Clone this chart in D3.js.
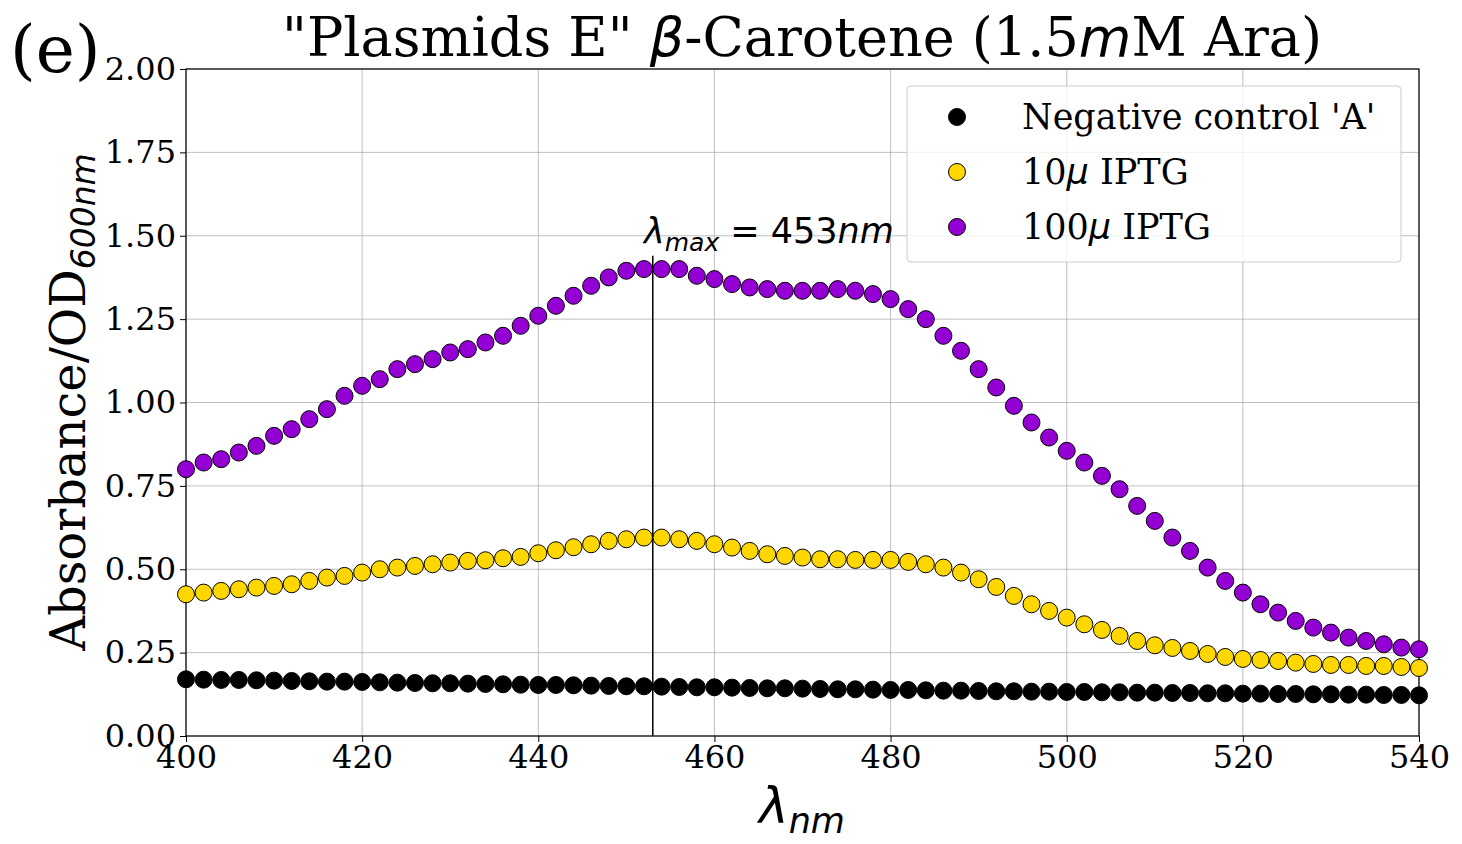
<!DOCTYPE html>
<html><head><meta charset="utf-8">
<script src="https://cdn.jsdelivr.net/npm/d3@7"></script>
<style>body{margin:0;background:#fff}</style></head>
<body><svg id="c" width="1462" height="844"></svg>
<script>
const wavelengths = d3.range(400, 541, 2);
const negControl = [0.170,0.169,0.168,0.168,0.167,0.166,0.165,0.164,0.163,0.163,0.162,0.161,0.160,0.159,0.158,0.158,0.157,0.156,0.155,0.154,0.153,0.153,0.152,0.151,0.150,0.149,0.149,0.148,0.147,0.146,0.146,0.145,0.144,0.143,0.143,0.142,0.141,0.140,0.140,0.139,0.138,0.138,0.137,0.136,0.136,0.135,0.134,0.134,0.133,0.133,0.132,0.132,0.131,0.131,0.130,0.130,0.129,0.129,0.128,0.128,0.127,0.127,0.126,0.126,0.125,0.125,0.124,0.124,0.123,0.123,0.122];
const iptg10 = [0.425,0.43,0.435,0.44,0.445,0.45,0.455,0.465,0.475,0.48,0.49,0.50,0.505,0.51,0.515,0.52,0.525,0.527,0.533,0.537,0.548,0.557,0.566,0.575,0.585,0.59,0.595,0.595,0.59,0.585,0.575,0.565,0.555,0.545,0.54,0.535,0.53,0.53,0.528,0.528,0.528,0.522,0.515,0.505,0.49,0.47,0.447,0.42,0.395,0.375,0.355,0.335,0.318,0.30,0.285,0.272,0.264,0.255,0.246,0.237,0.231,0.228,0.225,0.22,0.216,0.213,0.213,0.21,0.21,0.207,0.204];
const iptg100 = [0.80,0.82,0.83,0.85,0.87,0.90,0.92,0.95,0.98,1.02,1.05,1.07,1.10,1.115,1.13,1.15,1.16,1.18,1.20,1.23,1.26,1.29,1.32,1.35,1.375,1.395,1.40,1.40,1.40,1.38,1.37,1.355,1.345,1.34,1.335,1.335,1.335,1.34,1.335,1.325,1.31,1.28,1.25,1.20,1.155,1.10,1.045,0.99,0.94,0.895,0.855,0.82,0.78,0.74,0.69,0.645,0.595,0.555,0.505,0.465,0.43,0.395,0.37,0.345,0.325,0.31,0.295,0.285,0.275,0.265,0.26];
const xTicks = [400,420,440,460,480,500,520,540];
const yTicks = [0,0.25,0.5,0.75,1.0,1.25,1.5,1.75,2.0];
const lambdaMax = 453;
const series = [
 {name:"Negative control 'A'", data:negControl, fill:"#000000"},
 {name:"10\u03bc IPTG", data:iptg10, fill:"#ffd700"},
 {name:"100\u03bc IPTG", data:iptg100, fill:"#9400d3"}
];
const svg = d3.select("#c");
const L=186,R=1419,T=69,B=736;
const x = d3.scaleLinear().domain([400,540]).range([L,R]);
const y = d3.scaleLinear().domain([0,2]).range([B,T]);
const serif = "DejaVu Serif";
const g = svg.append("g");
g.selectAll(".gx").data(xTicks).join("line").attr("x1",d=>x(d)).attr("x2",d=>x(d)).attr("y1",T).attr("y2",B).attr("stroke","#b0b0b0").attr("stroke-width",0.8);
g.selectAll(".gy").data(yTicks).join("line").attr("y1",d=>y(d)).attr("y2",d=>y(d)).attr("x1",L).attr("x2",R).attr("stroke","#b0b0b0").attr("stroke-width",0.8);
const xa = svg.append("g").attr("transform",`translate(0,${B})`).call(d3.axisBottom(x).tickValues(xTicks).tickSize(6).tickPadding(3));
const ya = svg.append("g").attr("transform",`translate(${L},0)`).call(d3.axisLeft(y).tickValues(yTicks).tickFormat(d3.format(".2f")).tickSize(6).tickPadding(4));
[xa,ya].forEach(a=>{a.selectAll("text").attr("font-family",serif).attr("font-size",32).attr("fill","#000");a.select(".domain").remove();});
svg.append("rect").attr("x",L).attr("y",T).attr("width",R-L).attr("height",B-T).attr("fill","none").attr("stroke","#000").attr("stroke-width",1.2);
svg.append("line").attr("x1",x(lambdaMax)).attr("x2",x(lambdaMax)).attr("y1",y(1.44)).attr("y2",B).attr("stroke","#000").attr("stroke-width",1.5);
series.forEach(s=>{
 svg.append("g").selectAll("circle").data(s.data).join("circle")
  .attr("cx",(d,i)=>x(wavelengths[i])).attr("cy",d=>y(d)).attr("r",8.5)
  .attr("fill",s.fill).attr("stroke","#000").attr("stroke-width",1);
});
const ann = svg.append("text").attr("x",644).attr("y",243).attr("font-family","DejaVu Sans").attr("font-size",35);
ann.append("tspan").attr("font-style","italic").text("\u03bb");
ann.append("tspan").attr("font-style","italic").attr("font-size",25).attr("dy",8).text("max");
ann.append("tspan").attr("dy",-8).text(" = 453");
ann.append("tspan").attr("font-style","italic").text("nm");
svg.append("rect").attr("x",907).attr("y",86).attr("width",494).attr("height",176).attr("rx",4).attr("fill","#fff").attr("fill-opacity",0.8).attr("stroke","#ccc");
series.forEach((s,i)=>{
 const ly=117+i*55;
 svg.append("circle").attr("cx",957).attr("cy",ly).attr("r",8.5).attr("fill",s.fill).attr("stroke","#000");
 const t=svg.append("text").attr("x",1022).attr("y",ly+12).attr("font-family",serif).attr("font-size",35);
 if(i===0) t.text(s.name);
 else { const p=s.name.split("\u03bc"); t.append("tspan").text(p[0]); t.append("tspan").attr("font-style","italic").attr("font-family","DejaVu Sans").text("\u03bc"); t.append("tspan").text(p[1]); }
});
const tt = svg.append("text").attr("x",802).attr("y",56).attr("text-anchor","middle").attr("font-family",serif).attr("font-size",54);
tt.append("tspan").text("\"Plasmids E\" ");
tt.append("tspan").attr("font-style","italic").attr("font-family","DejaVu Sans").text("\u03b2");
tt.append("tspan").text("-Carotene (1.5");
tt.append("tspan").attr("font-style","italic").attr("font-family","DejaVu Sans").text("m");
tt.append("tspan").text("M Ara)");
svg.append("text").attr("x",10).attr("y",72).attr("font-family",serif).attr("font-size",66).text("(e)");
const xl = svg.append("text").attr("x",802).attr("y",823).attr("text-anchor","middle").attr("font-family","DejaVu Sans").attr("font-size",50).attr("font-style","italic");
xl.append("tspan").text("\u03bb"); xl.append("tspan").attr("font-size",35).attr("dy",10).text("nm");
const yl = svg.append("text").attr("transform","translate(85,402) rotate(-90)").attr("text-anchor","middle").attr("font-family",serif).attr("font-size",48);
yl.append("tspan").text("Absorbance/OD"); yl.append("tspan").attr("font-size",33).attr("dy",10).attr("font-style","italic").attr("font-family","DejaVu Sans").text("600nm");
</script></body></html>
